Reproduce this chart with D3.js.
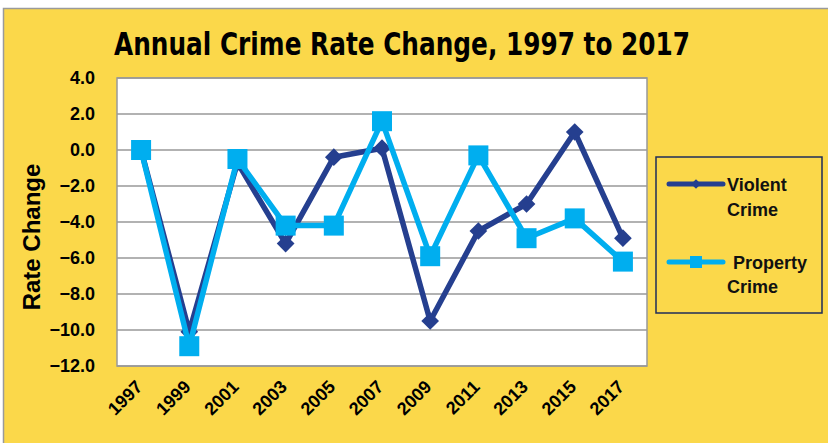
<!DOCTYPE html>
<html lang="en">
<head>
    <meta charset="UTF-8">
    <title>Annual Crime Rate Change</title>
    <style>
        body { margin: 0; background: #fff; }
        svg text { font-family: "Liberation Sans", Arial, sans-serif; }
    </style>
    <script src="https://cdn.jsdelivr.net/npm/d3@7"></script>
</head>
<body>
    <script>
        const years = ['1997','1999','2001','2003','2005','2007','2009','2011','2013','2015','2017']
        const violent = [0.0, -10.1, -0.7, -5.2, -0.4, 0.1, -9.5, -4.5, -3.0, 1.0, -4.9]
        const property = [0.0, -10.9, -0.5, -4.2, -4.2, 1.6, -5.9, -0.3, -4.9, -3.8, -6.2]
        const yTicks = [4, 2, 0, -2, -4, -6, -8, -10, -12]

        const width = 828, height = 443
        const plot = { left: 117, right: 647, top: 78, bottom: 366 }
        const yellow = '#fbd84a'
        const dark = '#253f8f'
        const light = '#00aeef'

        const svg = d3.select('body').append('svg').attr('width', width).attr('height', height)

        // background with grey frame
        svg.append('rect').attr('x', 3.5).attr('y', 8.5).attr('width', width + 10).attr('height', height)
            .attr('fill', yellow).attr('stroke', '#9a9a9a').attr('stroke-width', 1.5)

        svg.append('text').attr('x', 402).attr('y', 55).attr('text-anchor', 'middle')
            .style('font-family', '"Liberation Sans Narrow", "DejaVu Sans Condensed", sans-serif')
            .style('font-weight', 'bold').style('font-size', '32px')
            .attr('textLength', 576).attr('lengthAdjust', 'spacingAndGlyphs')
            .text('Annual Crime Rate Change, 1997 to 2017')

        const x = d3.scalePoint().domain(years).range([plot.left, plot.right]).padding(0.5)
        const y = d3.scaleLinear().domain([-12, 4]).range([plot.bottom, plot.top])

        svg.append('rect').attr('x', plot.left).attr('y', plot.top)
            .attr('width', plot.right - plot.left).attr('height', plot.bottom - plot.top)
            .attr('fill', '#fff').attr('stroke', '#999').attr('stroke-width', 1.5)

        // grid
        svg.append('g').selectAll('line').data(yTicks).enter().append('line')
            .attr('x1', plot.left).attr('x2', plot.right)
            .attr('y1', d => y(d)).attr('y2', d => y(d))
            .attr('stroke', '#999').attr('stroke-width', 1.5)

        // y axis
        const yAxis = d3.axisLeft(y).tickValues(yTicks).tickFormat(d3.format('.1f')).tickSize(0).tickPadding(22)
        const gy = svg.append('g').attr('transform', `translate(${plot.left}, 0)`).call(yAxis)
        gy.select('.domain').remove()
        gy.selectAll('text').style('font-size', '18px').style('font-weight', 'bold').attr('fill', '#000')
            .style('font-family', '"Liberation Sans", Arial, sans-serif')

        svg.append('text').attr('transform', 'translate(40, 237) rotate(-90)').attr('text-anchor', 'middle')
            .style('font-size', '24px').style('font-weight', 'bold').text('Rate Change')

        // x axis
        const xAxis = d3.axisBottom(x).tickSize(0).tickPadding(0)
        const gx = svg.append('g').attr('transform', `translate(0, ${plot.bottom})`).call(xAxis)
        gx.select('.domain').remove()
        gx.selectAll('text').attr('text-anchor', 'end').attr('dy', 0)
            .attr('transform', 'translate(2, 22) rotate(-45)')
            .style('font-size', '18px').style('font-weight', 'bold').attr('fill', '#000')
            .style('font-family', '"Liberation Sans", Arial, sans-serif')

        const line = d3.line().x((d, i) => x(years[i])).y(d => y(d))

        svg.append('path').datum(violent).attr('d', line).attr('fill', 'none')
            .attr('stroke', dark).attr('stroke-width', 5.5).attr('stroke-linejoin', 'round')
        svg.append('g').selectAll('path').data(violent).enter().append('path')
            .attr('d', d3.symbol().type(d3.symbolDiamond2).size(200))
            .attr('transform', (d, i) => `translate(${x(years[i])}, ${y(d)})`)
            .attr('fill', dark)

        svg.append('path').datum(property).attr('d', line).attr('fill', 'none')
            .attr('stroke', light).attr('stroke-width', 5.5).attr('stroke-linejoin', 'round')
        svg.append('g').selectAll('rect').data(property).enter().append('rect')
            .attr('x', (d, i) => x(years[i]) - 10).attr('y', d => y(d) - 10)
            .attr('width', 20).attr('height', 20).attr('fill', light)

        // legend
        const lg = svg.append('g')
        lg.append('rect').attr('x', 656).attr('y', 157).attr('width', 166).attr('height', 156)
            .attr('fill', 'none').attr('stroke', '#1f2d5a').attr('stroke-width', 1.5)
        lg.append('line').attr('x1', 669).attr('x2', 723).attr('y1', 184).attr('y2', 184)
            .attr('stroke', dark).attr('stroke-width', 5).attr('stroke-linecap', 'round')
        lg.append('path').attr('d', d3.symbol().type(d3.symbolDiamond2).size(60))
            .attr('transform', 'translate(696, 184)').attr('fill', dark)
        lg.append('line').attr('x1', 669).attr('x2', 723).attr('y1', 262).attr('y2', 262)
            .attr('stroke', light).attr('stroke-width', 5).attr('stroke-linecap', 'round')
        lg.append('rect').attr('x', 690).attr('y', 256).attr('width', 12).attr('height', 12).attr('fill', light)

        const lt = [['Violent', 727, 191], ['Crime', 727, 216], ['Property', 733, 269], ['Crime', 727, 293]]
        lg.selectAll('text.l').data(lt).enter().append('text').attr('class', 'l')
            .attr('x', d => d[1]).attr('y', d => d[2])
            .style('font-size', '18px').style('font-weight', 'bold').attr('fill', '#111')
            .text(d => d[0])
    </script>
</body>
</html>
